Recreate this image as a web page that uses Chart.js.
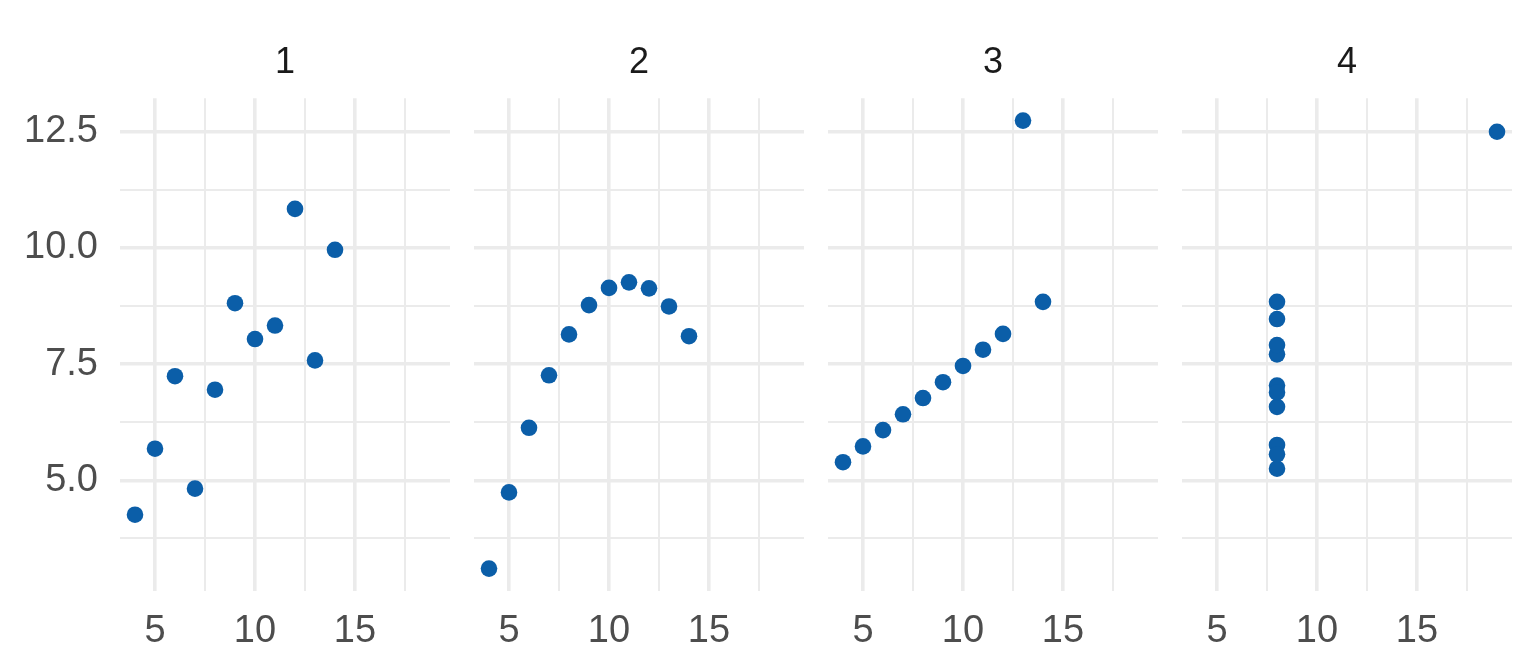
<!DOCTYPE html>
<html>
<head>
<meta charset="utf-8">
<script src="https://cdn.jsdelivr.net/npm/chart.js@4/dist/chart.umd.min.js"></script>
<style>
    html, body { margin: 0; padding: 0; background: #fff; }
    #wrap { position: relative; width: 1536px; height: 672px; overflow: hidden; }
    #wrap canvas { position: absolute; top: 0; }
</style>
</head>
<body>
<div id="wrap"></div>
<script>
// Anscombe's quartet
const panelNames = ['1', '2', '3', '4'];
const xCommon = [10, 8, 13, 9, 11, 14, 6, 4, 12, 7, 5];
const x4 = [8, 8, 8, 8, 8, 8, 8, 19, 8, 8, 8];
const y1 = [8.04, 6.95, 7.58, 8.81, 8.33, 9.96, 7.24, 4.26, 10.84, 4.82, 5.68];
const y2 = [9.14, 8.14, 8.74, 8.77, 9.26, 8.10, 6.13, 3.10, 9.13, 7.26, 4.74];
const y3 = [7.46, 6.77, 12.74, 7.11, 7.81, 8.84, 6.08, 5.39, 8.15, 6.42, 5.73];
const y4 = [6.58, 5.76, 7.71, 8.84, 8.47, 7.04, 5.25, 12.50, 5.56, 7.91, 6.89];
const xTicks = [5, 7.5, 10, 12.5, 15, 17.5];
const yTicks = [3.75, 5, 6.25, 7.5, 8.75, 10, 11.25, 12.5];

const panels = [
    { name: panelNames[0], x: xCommon, y: y1 },
    { name: panelNames[1], x: xCommon, y: y2 },
    { name: panelNames[2], x: xCommon, y: y3 },
    { name: panelNames[3], x: x4, y: y4 }
];

// ggplot-style 5% expansion of the shared ranges
const allX = xCommon.concat(x4);
const allY = y1.concat(y2, y3, y4);
const expand = (arr) => {
    const lo = Math.min(...arr), hi = Math.max(...arr);
    const pad = (hi - lo) * 0.05;
    return [lo - pad, hi + pad];
};
const [xMin, xMax] = expand(allX);
const [yMin, yMax] = expand(allY);

const font = "'Liberation Sans', Arial, sans-serif";
const gridColor = '#ebebeb';
const pointColor = '#0b5ea8';
const isMajor = (v, step) => Math.abs(v / step - Math.round(v / step)) < 1e-6;

const wrap = document.getElementById('wrap');

panels.forEach((p, i) => {
    const first = i === 0;
    const areaLeft = 120 + 354 * i;
    const canvasLeft = first ? 0 : areaLeft - 12;
    const canvasWidth = first ? 462 : 354;

    const canvas = document.createElement('canvas');
    canvas.width = canvasWidth;
    canvas.height = 672;
    canvas.style.left = canvasLeft + 'px';
    canvas.style.width = canvasWidth + 'px';
    canvas.style.height = '672px';
    wrap.appendChild(canvas);

    new Chart(canvas.getContext('2d'), {
        type: 'scatter',
        data: {
            datasets: [{
                data: p.x.map((xv, k) => ({ x: xv, y: p.y[k] })),
                backgroundColor: pointColor,
                borderWidth: 0,
                pointRadius: 8.3,
                pointHoverRadius: 8.3
            }]
        },
        options: {
            responsive: false,
            animation: false,
            events: [],
            layout: { padding: { left: first ? 0 : 12, right: 12, top: 0, bottom: 0 } },
            plugins: {
                legend: { display: false },
                tooltip: { enabled: false },
                title: {
                    display: true,
                    text: p.name,
                    fullSize: false,
                    color: '#1a1a1a',
                    font: { family: font, size: 36, weight: 'normal', lineHeight: 1.2 },
                    padding: { top: 41, bottom: 14 }
                }
            },
            scales: {
                x: {
                    type: 'linear',
                    min: xMin,
                    max: xMax,
                    afterBuildTicks: (s) => { s.ticks = xTicks.map(v => ({ value: v })); },
                    afterFit: (s) => { s.height = 81; },
                    border: { display: false },
                    grid: {
                        color: gridColor,
                        drawTicks: false,
                        lineWidth: (ctx) => isMajor(ctx.tick.value, 5) ? 3.6 : 2
                    },
                    ticks: {
                        autoSkip: false,
                        maxRotation: 0,
                        padding: 18,
                        color: '#4d4d4d',
                        font: { family: font, size: 38 },
                        callback: (v) => isMajor(v, 5) ? String(v) : ''
                    }
                },
                y: {
                    type: 'linear',
                    display: true,
                    min: yMin,
                    max: yMax,
                    afterBuildTicks: (s) => { s.ticks = yTicks.map(v => ({ value: v })); },
                    afterFit: (s) => { s.width = first ? 120 : 0; },
                    border: { display: false },
                    grid: {
                        color: gridColor,
                        drawTicks: false,
                        lineWidth: (ctx) => isMajor(ctx.tick.value, 2.5) ? 3.6 : 2
                    },
                    ticks: {
                        display: first,
                        autoSkip: false,
                        padding: 22,
                        color: '#4d4d4d',
                        font: { family: font, size: 38 },
                        callback: (v) => isMajor(v, 2.5) ? v.toFixed(1) : ''
                    }
                }
            }
        }
    });
});
</script>
</body>
</html>
